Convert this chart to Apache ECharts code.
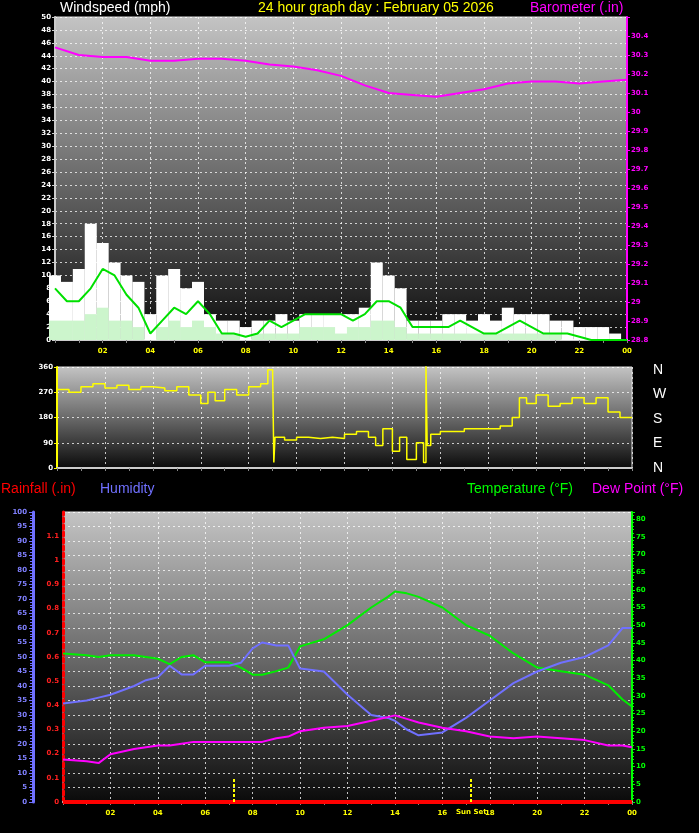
<!DOCTYPE html>
<html><head><meta charset="utf-8">
<script src="https://cdn.jsdelivr.net/npm/echarts@6/dist/echarts.min.js"></script>
<style>html,body{margin:0;background:#000}#c{width:699px;height:833px}</style></head>
<body><div id="c"></div>
<script>
const hh = [0,0.5,1,1.5,2,2.5,3,3.5,4,4.5,5,5.5,6,6.5,7,7.5,8,8.5,9,9.5,10,10.5,11,11.5,12,12.5,13,13.5,14,14.5,15,15.5,16,16.5,17,17.5,18,18.5,19,19.5,20,20.5,21,21.5,22,22.5,23,23.5,24];
const gust = [10,9,11,18,15,12,10,9,4,10,11,8,9,4,3,3,2,3,3,4,3,4,4,4,4,4,5,12,10,8,3,3,3,4,4,3,4,3,5,4,4,4,3,3,2,2,2,1,0];
const avgWind = [8,6,6,8,11,10,7,5,1,3,5,4,6,4,1,1,0.5,1,3,2,3,4,4,4,4,3,4,6,6,5,2,2,2,2,3,2,1,1,2,3,2,1,1,1,0.5,0,0,0,0];
const speed = [3,3,3,4,5,3,3,2,0,2,3,2,3,2,1,1,0,1,1,1,1,2,2,2,1,2,2,3,3,2,1,1,1,1,1,1,1,1,1,1,1,1,1,0,0,0,0,0,0];
const baroH = [0,1,2,3,4,5,6,7,8,9,10,11,12,13,14,15,16,17,18,19,20,21,22,23,24];
const baro = [30.34,30.30,30.29,30.29,30.27,30.27,30.28,30.28,30.27,30.25,30.24,30.22,30.19,30.14,30.10,30.09,30.08,30.10,30.12,30.15,30.16,30.16,30.15,30.16,30.17];
const dirH = [0,0.5,1,1.5,2,2.5,3,3.5,4,4.5,5,5.5,6,6.3,6.6,7,7.5,8,8.5,8.8,9.0,9.05,9.1,9.5,10,10.5,11,11.5,12,12.5,13,13.3,13.6,14,14.3,14.6,15,15.3,15.4,15.45,15.6,16,16.5,17,17.5,18,18.5,19,19.3,19.6,20,20.5,21,21.5,22,22.5,23,23.5,24];
const dirV = [280,270,290,300,285,295,280,290,285,275,290,260,230,270,240,280,260,290,300,350,350,20,110,100,110,105,110,105,120,130,110,80,140,60,110,30,90,20,370,80,120,130,130,140,140,140,150,180,250,230,260,220,230,250,230,250,200,180,180];
const envH = [0,1,1.5,2,3,3.5,4,4.5,5,5.5,6,7,7.5,8,8.4,9,9.5,10,11,12,13,13.7,14,14.5,15,16,17,18,19,20,21,22,23,23.6,24];
const temp = [42,41.5,41,41.5,41.5,41,40.5,39,41,41.5,39.5,39.5,38,36,36,37,38,44,46,50,55,58,59.5,59,58,55,50,47,42,38,37,36,33,29,27];
const hum = [34,35,36,37,40,42,43,47,44,44,47,47,48,53,55,54,54,46,45,37,30,29,28,25,23,24,29,35,41,45,48,50,54,60,60];
const dew = [12,11.5,11,13.5,15,15.5,16,16,16.5,17,17,17,17,17,17,18,18.5,20,21,21.5,23,24,24.5,23.5,22.5,21,20,18.5,18,18.5,18,17.5,16,16,15.5];
const rainH = [0,24];
const rain = [0,0];
const sunH = [7.2,17.2];

const pair = (xs, ys) => xs.map((x,i)=>[x,ys[i]]);
const bg = {type:'linear',x:0,y:0,x2:0,y2:1,colorStops:[{offset:0,color:'#c4c4c4'},{offset:0.5,color:'#6a6a6a'},{offset:1,color:'#0a0a0a'}]};
const dotted = {show:true,lineStyle:{color:'rgba(255,255,255,0.75)',type:[2,3],width:1}};
const fnt = {fontFamily:'DejaVu Sans',fontSize:7,fontWeight:'bold'};
const hourFmt = v => (v===0?'':String(v%24).padStart(2,'0'));
function xAx(g){return {type:'value',gridIndex:g,min:0,max:24,interval:2,
  axisLabel:{show:g!==1,color:'#ffff00',...fnt,formatter:hourFmt},
  axisLine:{show:true,lineStyle:{color:'#ccc',width:2}},axisTick:{show:true,length:3,lineStyle:{color:'#888'}},
  minorTick:{show:true,splitNumber:2,length:3,lineStyle:{color:'#888'}},
  splitLine:dotted};}
const grids=[
  {left:55,right:72,top:17,height:323,show:true,backgroundColor:bg,borderColor:'#ddd',borderWidth:1},
  {left:57,right:67,top:367,height:101,show:true,backgroundColor:bg,borderColor:'#ddd',borderWidth:1},
  {left:63,right:67,top:512,height:290,show:true,backgroundColor:bg,borderColor:'#ddd',borderWidth:1}];
const option={
 backgroundColor:'#000',animation:false,
 grid:grids,
 xAxis:[xAx(0),xAx(1),xAx(2)],
 yAxis:[
  {type:'value',gridIndex:0,min:0,max:50,interval:2,axisLabel:{color:'#fff',...fnt,margin:4},axisLine:{show:true,lineStyle:{color:'#ccc',width:2}},axisTick:{show:true,length:3,lineStyle:{color:'#ccc'}},splitLine:dotted},
  {type:'value',gridIndex:0,position:'right',min:28.8,max:30.5,interval:0.1,axisLabel:{color:'#ff00ff',...fnt,margin:4,formatter:v=>{const s=+v.toFixed(1);return s===30.5?'':String(s);}},axisLine:{show:true,lineStyle:{color:'#ff00ff',width:2}},axisTick:{show:true,length:3},splitLine:{show:false}},
  {type:'value',gridIndex:1,min:0,max:360,interval:90,axisLabel:{color:'#fff',...fnt,margin:4},axisLine:{show:true,lineStyle:{color:'#ffff00',width:2}},axisTick:{show:true,length:3},splitLine:dotted},
  {type:'value',gridIndex:2,position:'left',min:0,max:1.2,interval:0.1,axisLabel:{color:'#ff2020',...fnt,margin:4,formatter:v=>{const s=+v.toFixed(1);return s===1.2?'':String(s);}},axisLine:{show:true,lineStyle:{color:'#ff0000',width:3,type:[4,3]}},axisTick:{show:false},splitLine:{show:false}},
  {type:'value',gridIndex:2,position:'left',min:0,max:100,interval:5,offset:30,axisLabel:{color:'#8080ff',...fnt,margin:6},axisLine:{show:true,lineStyle:{color:'#7070ff',width:3}},axisTick:{show:true,length:4,lineStyle:{color:'#7070ff'}},minorTick:{show:true,splitNumber:5,length:3,lineStyle:{color:'#7070ff'}},splitLine:dotted},
  {type:'value',gridIndex:2,position:'right',min:0,max:82,interval:5,axisLabel:{color:'#00ff00',...fnt,margin:4,formatter:v=>v>80?'':String(v)},axisLine:{show:true,lineStyle:{color:'#00ff00',width:2}},axisTick:{show:true,length:3},minorTick:{show:true,splitNumber:5,length:2,lineStyle:{color:'#00ff00'}},splitLine:{show:false}}
 ],
 graphic:[
  {type:'text',left:60,top:1,style:{text:'Windspeed (mph)',fill:'#fff',font:'14px Liberation Sans'}},
  {type:'text',left:258,top:1,style:{text:'24 hour graph day : February 05 2026',fill:'#ffff00',font:'14px Liberation Sans'}},
  {type:'text',left:530,top:1,style:{text:'Barometer (.in)',fill:'#ff00ff',font:'14px Liberation Sans'}},
  {type:'text',left:1,top:482,style:{text:'Rainfall (.in)',fill:'#ff0000',font:'14px Liberation Sans'}},
  {type:'text',left:100,top:482,style:{text:'Humidity',fill:'#7070ff',font:'14px Liberation Sans'}},
  {type:'text',left:467,top:482,style:{text:'Temperature (°F)',fill:'#00ff00',font:'14px Liberation Sans'}},
  {type:'text',left:592,top:482,style:{text:'Dew Point (°F)',fill:'#ff00ff',font:'14px Liberation Sans'}},
  ...['N','W','S','E','N'].map((t,i)=>({type:'text',left:653,top:363+i*24.5,style:{text:t,fill:'#fff',font:'14px Liberation Sans'}})),
  {type:'text',left:456,top:809,style:{text:'Sun Set',fill:'#ffff00',font:'bold 7px DejaVu Sans'}}
 ],
 series:[
  {type:'bar',xAxisIndex:0,yAxisIndex:0,data:pair(hh,gust),barWidth:12,barGap:'-100%',itemStyle:{color:'#ffffff'}},
  {type:'bar',xAxisIndex:0,yAxisIndex:0,data:pair(hh,speed),barWidth:12,barGap:'-100%',itemStyle:{color:'#ccf5cc'}},
  {type:'line',xAxisIndex:0,yAxisIndex:0,data:pair(hh,avgWind),showSymbol:false,lineStyle:{color:'#00e000',width:2}},
  {type:'line',xAxisIndex:0,yAxisIndex:1,data:pair(baroH,baro),showSymbol:false,lineStyle:{color:'#ff00ff',width:2}},
  {type:'line',xAxisIndex:1,yAxisIndex:2,data:pair(dirH,dirV),showSymbol:false,step:'end',lineStyle:{color:'#ffff00',width:1.5}},
  {type:'line',xAxisIndex:2,yAxisIndex:5,data:pair(envH,temp),showSymbol:false,lineStyle:{color:'#00ee00',width:2}},
  {type:'line',xAxisIndex:2,yAxisIndex:4,data:pair(envH,hum),showSymbol:false,lineStyle:{color:'#7070ff',width:2}},
  {type:'line',xAxisIndex:2,yAxisIndex:5,data:pair(envH,dew),showSymbol:false,lineStyle:{color:'#ff00ff',width:2}},
  {type:'line',xAxisIndex:2,yAxisIndex:3,data:pair(rainH,rain),showSymbol:false,lineStyle:{color:'#ff0000',width:4},
   markLine:{symbol:'none',silent:true,label:{show:false},lineStyle:{color:'#ffff00',type:[3,2],width:2},
     data:sunH.map(h=>[{coord:[h,0]},{coord:[h,0.1]}])}}
 ]
};
echarts.init(document.getElementById('c')).setOption(option);
</script></body></html>
